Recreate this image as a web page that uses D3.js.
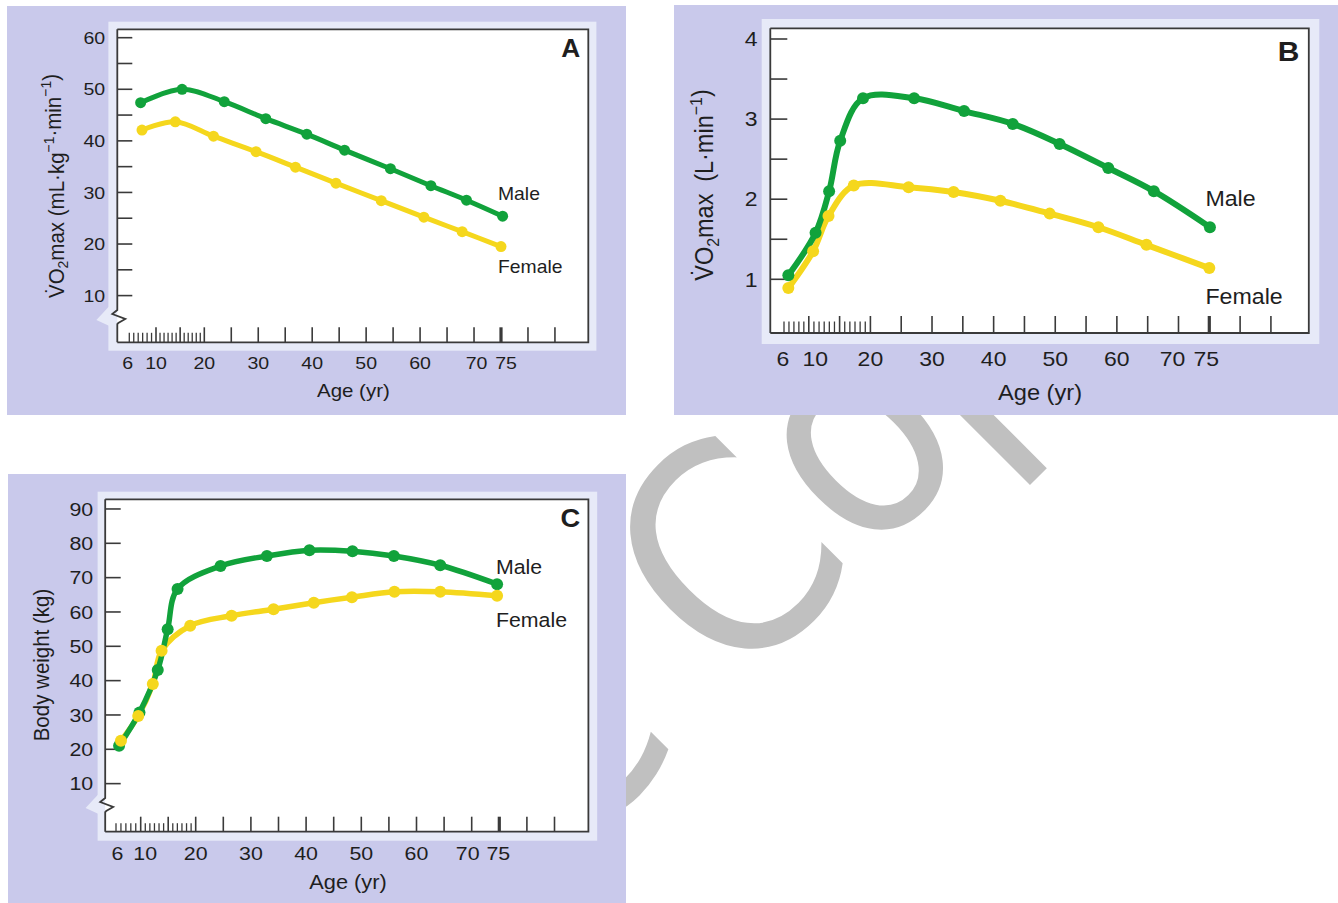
<!DOCTYPE html>
<html><head><meta charset="utf-8">
<script src="https://cdn.jsdelivr.net/npm/d3@7"></script>
<style>html,body{margin:0;padding:0;background:#fff;} svg{display:block;}</style>
</head><body>
<svg id="c" width="1338" height="903"></svg>
<script>
// ---------------- data ----------------
const xTickLabels = [6, 10, 20, 30, 40, 50, 60, 70, 75];
const xMajorTicks = [10, 15, 20, 25, 30, 35, 40, 45, 50, 55, 60, 65, 70, 75, 80, 85];

// Panel A : VO2max relative (mL·kg-1·min-1)
const aYTicks = [10, 15, 20, 25, 30, 35, 40, 45, 50, 55, 60];
const aYLabels = [10, 20, 30, 40, 50, 60];
const aAgeMale = [7.7, 15.4, 23.7, 31.4, 39.0, 46.0, 54.5, 62.0, 68.6, 75.3];
const aVO2Male = [47.4, 50.0, 47.6, 44.3, 41.3, 38.2, 34.6, 31.3, 28.5, 25.4];
const aAgeFemale = [7.9, 14.0, 21.7, 29.6, 36.9, 44.4, 52.8, 60.7, 67.8, 75.0];
const aVO2Female = [42.1, 43.7, 40.9, 37.9, 34.9, 31.8, 28.4, 25.2, 22.4, 19.5];

// Panel B : VO2max absolute (L·min-1)
const bYTicks = [1, 1.5, 2, 2.5, 3, 3.5, 4];
const bYLabels = [1, 2, 3, 4];
const bAgeMale = [6.7, 11.1, 13.3, 15.1, 18.8, 27.1, 35.2, 43.1, 50.7, 58.6, 66.0, 75.1];
const bVO2Male = [1.05, 1.58, 2.10, 2.73, 3.26, 3.26, 3.10, 2.94, 2.69, 2.39, 2.10, 1.65];
const bAgeFemale = [6.7, 10.7, 13.2, 17.3, 26.2, 33.5, 41.1, 49.1, 57.0, 64.8, 75.0];
const bVO2Female = [0.89, 1.35, 1.79, 2.17, 2.15, 2.09, 1.98, 1.82, 1.65, 1.43, 1.14];

// Panel C : body weight (kg)
const cYTicks = [10, 20, 30, 40, 50, 60, 70, 80, 90];
const cYLabels = [10, 20, 30, 40, 50, 60, 70, 80, 90];
const cAgeMale = [6.5, 9.8, 13.1, 14.9, 16.7, 24.5, 32.9, 40.6, 48.4, 55.9, 64.3, 74.6];
const cWtMale = [21.0, 30.7, 43.1, 55.0, 66.7, 73.4, 76.3, 78.0, 77.7, 76.3, 73.6, 68.1];
const cAgeFemale = [6.8, 9.6, 12.2, 13.8, 19.0, 26.5, 34.1, 41.4, 48.3, 56.0, 64.3, 74.6];
const cWtFemale = [22.5, 29.7, 39.0, 48.7, 56.0, 58.9, 60.8, 62.7, 64.3, 65.9, 65.9, 64.7];

const seriesNames = ["Male", "Female"];

// ---------------- style ----------------
const FONT = "'Liberation Sans', Arial, Helvetica, sans-serif";
const WMFONT = "'Liberation Sans Narrow', 'Arial Narrow', 'DejaVu Sans Condensed', sans-serif";
const GREEN = "#11a23b", YELLOW = "#f5d71d", LAV = "#c9c9eb", LIGHT = "#e7eaf8", INK = "#1e1e1e", AX = "#3a3a3a";

const svg = d3.select("#c");
svg.append("rect").attr("width", 1338).attr("height", 903).attr("fill", "#fff");

// watermark (behind the panels)
const wm = svg.append("g").attr("transform", "translate(734.6,694.5) rotate(-45)")
  .attr("font-family", WMFONT).attr("font-size", 292).attr("fill", "#c0c0c0");
const wmt = wm.append("text").attr("x", 0).attr("y", 0);
wmt.append("tspan").text("Co");
wmt.append("tspan").attr("dx", -11).text("py");
wm.append("text").attr("x", -66).attr("y", 0).attr("text-anchor", "end").text("Sample");

function txt(g, str, x, y, size, o = {}) {
  return g.append("text")
    .attr("transform", `translate(${x},${y}) scale(${o.sx || 1},1)` + (o.rot ? ` rotate(${o.rot})` : ""))
    .attr("font-family", FONT).attr("font-size", size)
    .attr("font-weight", o.bold ? "bold" : "normal")
    .attr("text-anchor", o.anchor || "start").attr("fill", INK).text(str);
}

function minorAges(n0) {
  const out = [];
  for (let i = 0; i < n0; i++) out.push(6 + i * 4 / n0);
  for (let i = 1; i < 6; i++) out.push(10 + i * 5 / 6);
  for (let i = 1; i < 6; i++) out.push(15 + i * 5 / 6);
  return out;
}

function drawPanel(p) {
  const g = svg.append("g");
  const [bx0, by0, bx1, by1] = p.box, [lx0, ly0, lx1, ly1] = p.light, [fx0, fy0, fx1, fy1] = p.frame;
  g.append("rect").attr("x", bx0).attr("y", by0).attr("width", bx1 - bx0).attr("height", by1 - by0).attr("fill", LAV);
  g.append("rect").attr("x", lx0).attr("y", ly0).attr("width", lx1 - lx0).attr("height", ly1 - ly0).attr("fill", LIGHT);
  if (p.yBreak) {
    const yb = p.yBreak;
    g.append("polygon").attr("points", [[lx0 + 1, yb - 12], [lx0 - 12, yb + 2], [lx0 + 1, yb + 8]].map(d => d.join(",")).join(" ")).attr("fill", LIGHT);
  }
  g.append("rect").attr("x", fx0).attr("y", fy0).attr("width", fx1 - fx0).attr("height", fy1 - fy0).attr("fill", "#fff");

  const x = d3.scaleLinear().domain([6, 10, 20, 75]).range(p.xRange);
  const y = d3.scaleLinear().domain(p.yDomain).range(p.yRange);

  // frame
  const frame = g.append("g").attr("fill", "none").attr("stroke", AX).attr("stroke-width", 1.8);
  frame.append("path").attr("d", `M${fx0},${fy0}H${fx1}V${fy1}H${fx0}`);
  if (p.yBreak) {
    const yb = p.yBreak;
    frame.append("path").attr("d", `M${fx0},${fy1}V${yb + 6}L${fx0 + 1},${yb + 5}L${fx0 + 8},${yb + 1}L${fx0 - 5},${yb - 4}L${fx0},${yb - 8}V${fy0}`).attr("stroke-linejoin", "miter");
  } else {
    frame.append("path").attr("d", `M${fx0},${fy1}V${fy0}`);
  }

  // y ticks + labels
  g.append("g").selectAll("line").data(p.yTicks).join("line")
    .attr("x1", fx0).attr("x2", fx0 + p.yTickLen).attr("y1", d => y(d)).attr("y2", d => y(d))
    .attr("stroke", AX).attr("stroke-width", 1.6);
  p.yLabels.forEach(v => txt(g, String(v), p.yLabelRight, y(v) + p.tickFont * 0.36, p.tickFont, { anchor: "end", sx: 1.15 }));

  // x ticks
  const xt = g.append("g").attr("stroke", AX);
  xt.selectAll("line.mi").data(minorAges(p.n0)).join("line").attr("class", "mi")
    .attr("x1", d => x(d)).attr("x2", d => x(d)).attr("y1", fy1).attr("y2", fy1 - p.minorLen).attr("stroke-width", 1.3);
  xt.selectAll("line.ma").data(xMajorTicks).join("line").attr("class", "ma")
    .attr("x1", d => x(d)).attr("x2", d => x(d)).attr("y1", fy1).attr("y2", fy1 - p.majorLen)
    .attr("stroke-width", d => d === 75 ? 3.2 : 1.6);
  xTickLabels.forEach(v => txt(g, String(v), x(v) + (p.labelNudge[v] || 0), p.xLabelY, p.tickFont, { anchor: "middle", sx: 1.15 }));

  // titles
  txt(g, "Age (yr)", p.xTitle[0], p.xTitle[1], p.xTitleFont, { anchor: "middle", sx: 1.1 });
  const yt = g.append("text")
    .attr("transform", `translate(${p.yTitle[0]},${p.yTitle[1]}) scale(1.08,1) rotate(-90)`)
    .attr("font-family", FONT).attr("font-size", p.yTitleFont).attr("text-anchor", "middle").attr("fill", INK);
  p.yTitleParts.forEach(part => {
    const ts = yt.append("tspan").text(part.t);
    if (part.sub) ts.attr("font-size", p.yTitleFont * 0.68).attr("dy", p.yTitleFont * 0.22);
    if (part.sup) ts.attr("font-size", p.yTitleFont * 0.68).attr("dy", -p.yTitleFont * 0.42);
    if (part.back) ts.attr("dy", part.back * p.yTitleFont);
  });

  // series
  const line = d3.line().x(d => x(d[0])).y(d => y(d[1])).curve(d3.curveCatmullRom.alpha(0.5));
  const male = d3.zip(p.maleAge, p.maleVal), female = d3.zip(p.femaleAge, p.femaleVal);
  g.append("path").datum(female).attr("d", line).attr("fill", "none").attr("stroke", YELLOW).attr("stroke-width", p.lw).attr("stroke-linejoin", "round").attr("stroke-linecap", "round");
  g.append("path").datum(male).attr("d", line).attr("fill", "none").attr("stroke", GREEN).attr("stroke-width", p.lw).attr("stroke-linejoin", "round").attr("stroke-linecap", "round");
  g.append("g").selectAll("circle").data(male).join("circle").attr("cx", d => x(d[0])).attr("cy", d => y(d[1])).attr("r", p.r).attr("fill", GREEN);
  g.append("g").selectAll("circle").data(female).join("circle").attr("cx", d => x(d[0])).attr("cy", d => y(d[1])).attr("r", p.r).attr("fill", YELLOW);

  // series labels + panel letter
  txt(g, seriesNames[0], p.labelX, p.maleLabelY, p.labelFont, { sx: 1.04 });
  txt(g, seriesNames[1], p.labelX, p.femaleLabelY, p.labelFont, { sx: 1.04 });
  txt(g, p.letter, p.letterPos[0], p.letterPos[1], p.letterFont, { anchor: "end", bold: true, sx: 1.05 });
}

drawPanel({
  box: [7, 6, 626, 415], light: [108.4, 21.7, 596.4, 350.7], frame: [117.3, 29.3, 588.3, 342.3],
  xRange: [129.3, 156, 204.3, 501], yDomain: [10, 60], yRange: [295.6, 37.7],
  yTicks: aYTicks, yLabels: aYLabels, yTickLen: 15, yLabelRight: 105.2, yBreak: 318,
  n0: 6, minorLen: 9.5, majorLen: 15, tickFont: 17, xLabelY: 369.2,
  labelNudge: { 6: -1.5, 70: 2.5, 75: 5 },
  xTitle: [353.4, 397], xTitleFont: 18.6,
  yTitle: [63.5, 186], yTitleFont: 20.5,
  yTitleParts: [{ t: "V\u0307O" }, { t: "2", sub: true }, { t: "max (mL\u00b7kg", back: -0.22 }, { t: "\u22121", sup: true }, { t: "\u00b7min", back: 0.42 * 0.68 }, { t: "\u22121", sup: true }, { t: ")", back: 0.42 * 0.68 }],
  maleAge: aAgeMale, maleVal: aVO2Male, femaleAge: aAgeFemale, femaleVal: aVO2Female,
  lw: 5, r: 5.5,
  labelX: 498, maleLabelY: 200, femaleLabelY: 272.5, labelFont: 18.6,
  letter: "A", letterPos: [580.3, 57.3], letterFont: 25
});

drawPanel({
  box: [674, 5, 1338, 415], light: [761.7, 19, 1319.3, 344], frame: [770.3, 28.3, 1308.8, 333],
  xRange: [784, 808.8, 870.4, 1209.3], yDomain: [1, 4], yRange: [279.3, 39],
  yTicks: bYTicks, yLabels: bYLabels, yTickLen: 17, yLabelRight: 757.5, yBreak: null,
  n0: 5, minorLen: 11.5, majorLen: 17, tickFont: 20, xLabelY: 365.5,
  labelNudge: { 6: -1, 10: 6.5, 70: -6, 75: -3 },
  xTitle: [1040, 399.5], xTitleFont: 21.5,
  yTitle: [713, 185], yTitleFont: 23.5,
  yTitleParts: [{ t: "V\u0307O" }, { t: "2", sub: true }, { t: "max\u2002(L\u00b7min", back: -0.22 }, { t: "\u22121", sup: true }, { t: ")", back: 0.42 * 0.68 }],
  maleAge: bAgeMale, maleVal: bVO2Male, femaleAge: bAgeFemale, femaleVal: bVO2Female,
  lw: 6, r: 6,
  labelX: 1205.4, maleLabelY: 206, femaleLabelY: 304, labelFont: 22.3,
  letter: "B", letterPos: [1299.3, 60.7], letterFont: 28.5
});

drawPanel({
  box: [8, 474, 626, 903], light: [97.6, 491.7, 597.2, 840.7], frame: [105.2, 499.3, 588.4, 831.7],
  xRange: [116, 140.7, 195.7, 499.3], yDomain: [20, 80], yRange: [749.3, 543.3],
  yTicks: cYTicks, yLabels: cYLabels, yTickLen: 15.5, yLabelRight: 93.2, yBreak: 806,
  n0: 5, minorLen: 8.5, majorLen: 15, tickFont: 18.6, xLabelY: 859.7,
  labelNudge: { 6: 1.5, 10: 4.5, 70: -4, 75: -1 },
  xTitle: [348, 889.3], xTitleFont: 19.8,
  yTitle: [48.5, 665], yTitleFont: 20.5,
  yTitleParts: [{ t: "Body weight (kg)" }],
  maleAge: cAgeMale, maleVal: cWtMale, femaleAge: cAgeFemale, femaleVal: cWtFemale,
  lw: 5.5, r: 6,
  labelX: 496, maleLabelY: 574, femaleLabelY: 627.3, labelFont: 20.5,
  letter: "C", letterPos: [580.3, 527.3], letterFont: 26
});
</script>
</body></html>
